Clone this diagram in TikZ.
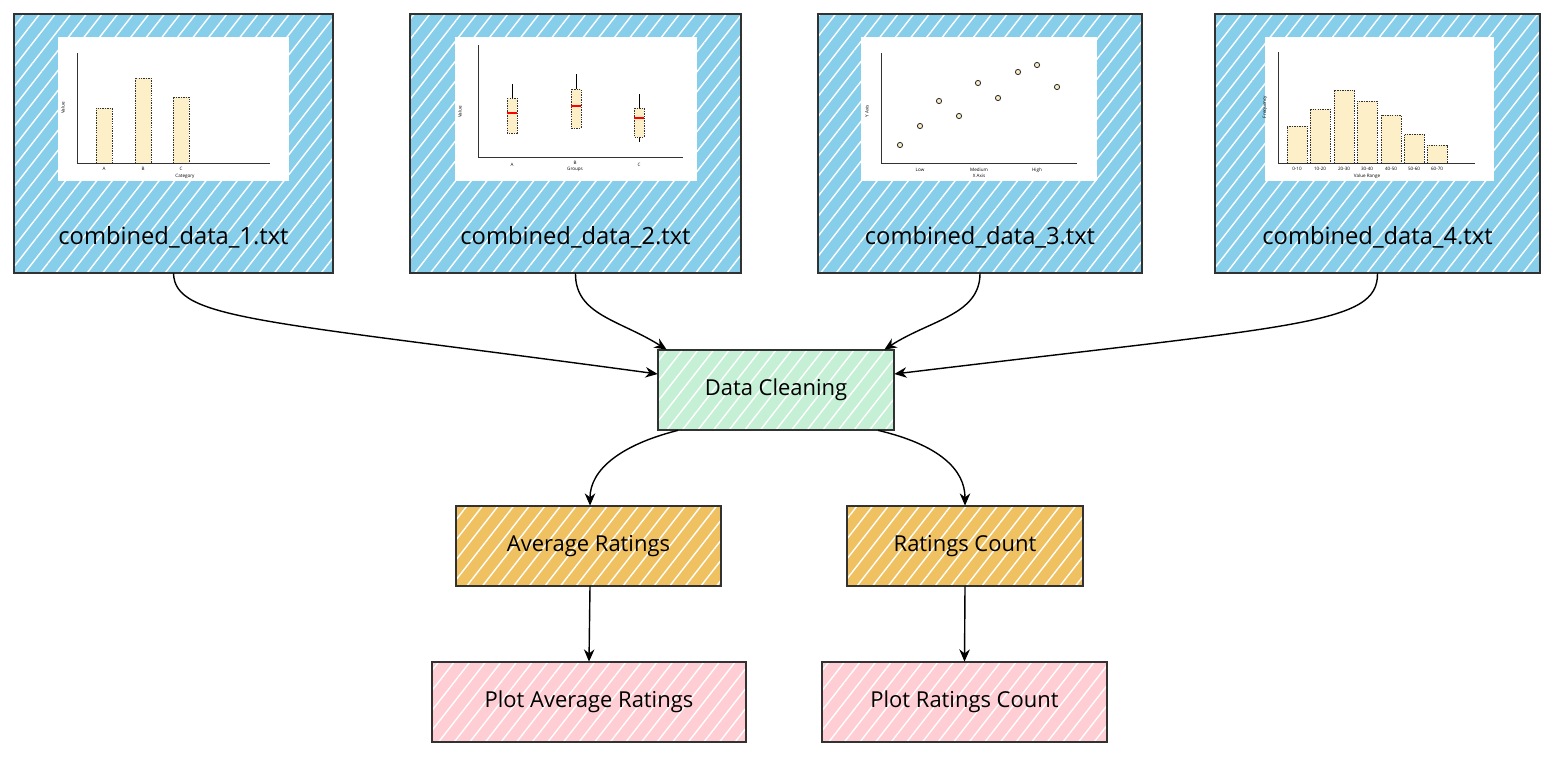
\documentclass[tikz,border=0pt]{standalone}
\usepackage{fontspec}
\setmainfont{Open Sans}
\usetikzlibrary{arrows.meta,patterns.meta}
\definecolor{srcblue}{RGB}{135,206,235}
\definecolor{cleangreen}{RGB}{197,240,213}
\definecolor{statorange}{RGB}{240,193,96}
\definecolor{plotpink}{RGB}{255,205,212}
\definecolor{edgegray}{RGB}{50,50,50}
\definecolor{barcream}{RGB}{253,240,200}
\tikzset{
  hatch/.style={postaction={pattern={Lines[angle=52,distance=7pt,line width=0.8pt]},pattern color=white}},
  srcbox/.style={fill=srcblue,hatch,postaction={draw=edgegray,line width=1.4pt},minimum height=5.18cm},
  imgbox/.style={fill=white,minimum height=2.88cm},
  stepbox/.style={hatch,postaction={draw=edgegray,line width=1pt},minimum height=1.6cm,font=\fontsize{12.5}{14}\selectfont},
  srclabel/.style={font=\fontsize{13.5}{16}\selectfont},
  flow/.style={-{Stealth[length=7pt,width=6pt]},line width=0.8pt,black},
  tinytext/.style={font=\fontsize{2.6}{3}\selectfont,inner sep=0pt},
  bar/.style={draw=edgegray,dash pattern=on 0.8pt off 0.6pt,line width=0.4pt,fill=barcream},
  axis/.style={draw=edgegray,line width=0.5pt}
}
\begin{document}
\begin{tikzpicture}[x=0.02cm,y=-0.02cm]
\useasboundingbox (0,0) rectangle (1568,764);
\node[srcbox,minimum width=6.38cm] (src1) at (173.5,143.5) {};
\node[srcbox,minimum width=6.62cm] (src2) at (575.5,143.5) {};
\node[srcbox,minimum width=6.48cm] (src3) at (980,143.5) {};
\node[srcbox,minimum width=6.5cm] (src4) at (1377.5,143.5) {};
\node[imgbox,minimum width=4.62cm] (img1) at (173.5,109) {};
\node[imgbox,minimum width=4.84cm] (img2) at (576,109) {};
\node[imgbox,minimum width=4.72cm] (img3) at (979,109) {};
\node[imgbox,minimum width=4.58cm] (img4) at (1379.5,109) {};
\node[srclabel] (lab1) at (173.5,237) {combined\_data\_1.txt};
\node[srclabel] (lab2) at (575.5,237) {combined\_data\_2.txt};
\node[srclabel] (lab3) at (980,237) {combined\_data\_3.txt};
\node[srclabel] (lab4) at (1377.5,237) {combined\_data\_4.txt};
\draw[axis] (77,53) -- (77,163) -- (270,163);
\draw[bar] (96,163) rectangle (112,108);
\draw[bar] (135,163) rectangle (151,78);
\draw[bar] (173,163) rectangle (189,97);
\node[tinytext] (c1a) at (104,169) {A};
\node[tinytext] (c1b) at (143,169) {B};
\node[tinytext] (c1c) at (181,169) {C};
\node[tinytext] (c1x) at (185,176) {Category};
\node[tinytext,rotate=90] (c1y) at (63,108) {Value};
\draw[axis] (478,45) -- (478,157) -- (683,157);
\draw[line width=0.5pt] (512,84) -- (512,98);
\draw[bar] (507,98) rectangle (517,133);
\draw[red,line width=0.6pt] (507,113) -- (517,113);
\draw[line width=0.5pt] (576,74) -- (576,89);
\draw[bar] (571,89) rectangle (581,128);
\draw[red,line width=0.6pt] (571,106) -- (581,106);
\draw[line width=0.5pt] (639,94) -- (639,142);
\draw[bar] (634,108) rectangle (644,137);
\draw[red,line width=0.6pt] (634,118) -- (644,118);
\node[tinytext] (c2a) at (512,165) {A};
\node[tinytext] (c2b) at (575,163) {B};
\node[tinytext] (c2c) at (639,165) {C};
\node[tinytext] (c2x) at (575,169) {Groups};
\node[tinytext,rotate=90] (c2y) at (460,112) {Value};
\draw[axis] (881,53) -- (881,163) -- (1077,163);
\foreach \px/\py in {900/145,920/126,939/101,959/116,978/83,998/98,1018/72,1037/65,1057/87}
  \filldraw[fill=barcream,draw=edgegray,line width=0.5pt] (\px,\py) circle(2.6);
\node[tinytext] (c3a) at (920,170) {Low};
\node[tinytext] (c3b) at (979,170) {Medium};
\node[tinytext] (c3c) at (1037,170) {High};
\node[tinytext] (c3x) at (979,176) {X Axis};
\node[tinytext,rotate=90] (c3y) at (867,111) {Y Axis};
\draw[axis] (1278,52) -- (1278,163) -- (1475,163);
\foreach \bx/\bt/\bl in {1287/126/0-10,1310/109/10-20,1334/90/20-30,1357/101/30-40,1381/115/40-50,1404/134/50-60,1427/145/60-70}{
  \draw[bar] (\bx,163) rectangle ++(20,\bt-163);
  \node[tinytext] at (\bx+10,169) {\bl};
}
\node[tinytext] (c4x) at (1367,176) {Value Range};
\node[tinytext,rotate=90] (c4y) at (1265,107) {Frequency};
\node[stepbox,fill=cleangreen,minimum width=4.72cm] (dc) at (776,390) {Data Cleaning};
\node[stepbox,fill=statorange,minimum width=5.3cm] (ar) at (588.5,546) {Average Ratings};
\node[stepbox,fill=statorange,minimum width=4.72cm] (rc) at (965,546) {Ratings Count};
\node[stepbox,fill=plotpink,minimum width=6.28cm] (par) at (589,702) {Plot Average Ratings};
\node[stepbox,fill=plotpink,minimum width=5.7cm] (prc) at (964.5,702) {Plot Ratings Count};
\draw[flow] (src1.south) .. controls (175,320) and (260,320) .. ([yshift=0.32cm]dc.west);
\draw[flow] (src2.south) .. controls (575,315) and (620,320) .. ([xshift=0.18cm]dc.north west);
\draw[flow] (src3.south) .. controls (980,315) and (930,320) .. ([xshift=-0.2cm]dc.north east);
\draw[flow] (src4.south) .. controls (1378,325) and (1300,325) .. ([yshift=0.32cm]dc.east);
\draw[flow] ([xshift=-1.96cm]dc.south) .. controls (620,445) and (590,470) .. ([xshift=0.03cm]ar.north);
\draw[flow] ([xshift=2.04cm]dc.south) .. controls (940,445) and (965,470) .. (rc.north);
\draw[flow] ([xshift=0.03cm]ar.south) -- (par.north);
\draw[flow] (rc.south) -- (prc.north);
\end{tikzpicture}
\end{document}
